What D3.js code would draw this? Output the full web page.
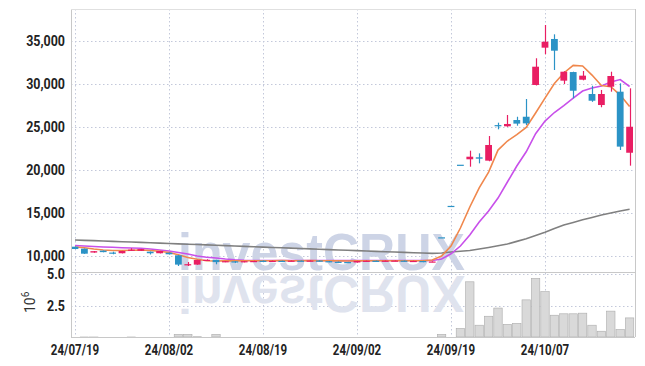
<!DOCTYPE html>
<html>
<head>
<meta charset="utf-8">
<script src="https://cdn.jsdelivr.net/npm/d3@7"></script>
<style>
  body { margin: 0; background: #fff; }
  svg { display: block; }
</style>
</head>
<body>
<svg id="chart"></svg>
<script>
// trading days shown on the chart
const dates = [
  "24/07/19","24/07/22","24/07/23","24/07/24","24/07/25","24/07/26","24/07/29","24/07/30","24/07/31","24/08/01",
  "24/08/02","24/08/05","24/08/06","24/08/07","24/08/08","24/08/09","24/08/12","24/08/13","24/08/14","24/08/16",
  "24/08/19","24/08/20","24/08/21","24/08/22","24/08/23","24/08/26","24/08/27","24/08/28","24/08/29","24/08/30",
  "24/09/02","24/09/03","24/09/04","24/09/05","24/09/06","24/09/09","24/09/10","24/09/11","24/09/12","24/09/13",
  "24/09/19","24/09/20","24/09/23","24/09/24","24/09/25","24/09/26","24/09/27","24/09/30","24/10/02","24/10/04",
  "24/10/07","24/10/08","24/10/10","24/10/11","24/10/14","24/10/15","24/10/16","24/10/17","24/10/18","24/10/21"
];

const open = [
  11080,10850,10400,10620,10400,10320,10700,10600,10500,10320,
  10380,10080,9000,9000,9500,9540,9300,9380,9280,9340,
  9450,9380,9440,9400,9460,9420,9470,9400,9330,9300,
  9250,9380,9450,9400,9420,9460,9380,9420,9300,12170,
  15820,20600,21230,21460,21070,25200,25060,25790,26170,29860,
  34190,35200,30360,31360,30470,28810,27530,29660,29080,21990
];
const high = [
  11100,10870,10580,10640,10500,10600,10900,10820,10520,10600,
  10400,10100,9300,9560,9620,9560,9420,9420,9420,9450,
  9480,9470,9460,9480,9480,9490,9500,9420,9350,9320,
  9440,9470,9470,9480,9490,9480,9450,9440,9380,12170,
  15820,20600,22230,21920,23930,25480,26370,26170,28230,32960,
  36820,35740,31450,31400,31480,29770,29280,31400,30050,29470
];
const low = [
  10800,10250,10380,10430,10200,10300,10580,10580,10180,10300,
  10180,8840,8840,8980,9450,9040,9280,9200,9260,9320,
  9350,9360,9380,9380,9400,9400,9360,9280,9180,9230,
  9230,9360,9380,9380,9400,9360,9360,9280,9280,12170,
  15820,20600,20370,20760,21000,24710,25000,25130,25210,29800,
  33420,31600,29970,28310,30400,27900,27270,29080,22310,20490
];
const close = [
  10810,10270,10560,10450,10360,10580,10740,10800,10320,10580,
  10200,9000,9050,9540,9560,9290,9400,9250,9400,9420,
  9380,9440,9400,9460,9420,9470,9380,9300,9200,9250,
  9420,9450,9400,9460,9470,9380,9430,9300,9360,12170,
  15820,20600,21530,21300,22890,25060,25330,25370,25400,31980,
  34880,33840,31400,29190,30940,28030,28810,30900,22700,25010
];

// volume, millions of shares
const volume = [
  0.01,0.08,0.08,0.01,0.01,0.01,0.08,0.01,0.01,0.01,
  0.01,0.28,0.28,0.1,0.01,0.28,0.01,0.01,0.01,0.01,
  0.01,0.01,0.01,0.01,0.01,0.01,0.01,0.01,0.01,0.01,
  0.01,0.01,0.01,0.01,0.01,0.06,0.01,0.01,0.01,0.28,
  0.06,0.74,4.39,1.0,1.7,2.34,1.06,1.14,2.98,4.65,
  3.62,1.78,1.89,1.89,1.94,1.0,0.53,2.1,0.66,1.57
];

const ma5 = [
  11045,10950,10810,10700,10640,10640,10660,10700,10640,10550,
  10410,10140,9830,9620,9440,9420,9440,9430,9440,9450,
  9450,9450,9460,9450,9450,9460,9450,9440,9430,9420,
  9430,9440,9440,9450,9450,9450,9450,9450,9540,10000,
  11160,13250,15690,17900,19750,22300,23350,24100,24920,26600,
  28340,30030,31250,32140,32060,31010,29800,29660,28690,27360
];
const ma10 = [
  11220,11160,11100,11045,11010,10960,10930,10900,10810,10700,
  10580,10410,10230,10000,9860,9770,9650,9560,9500,9470,
  9470,9470,9470,9470,9470,9470,9470,9470,9460,9460,
  9460,9460,9470,9470,9470,9470,9470,9470,9480,9650,
  10260,11160,12440,13950,15220,16730,18590,20450,22100,24200,
  25670,26660,27470,28340,29160,29500,29740,30200,30490,29680
];
const ma60 = [
  11860,11820,11780,11740,11700,11660,11620,11580,11530,11490,
  11450,11410,11370,11330,11290,11250,11200,11160,11120,11080,
  11030,10990,10950,10910,10870,10830,10790,10740,10700,10660,
  10620,10580,10540,10500,10460,10420,10380,10340,10310,10350,
  10460,10550,10640,10810,10990,11190,11390,11700,12010,12380,
  12750,13180,13600,13900,14210,14480,14760,14990,15220,15420
];

const priceTicks = [10000, 15000, 20000, 25000, 30000, 35000];
const volumeTicks = [2.5, 5.0];
const dateTicks = ["24/07/19","24/08/02","24/08/19","24/09/02","24/09/19","24/10/07"];

let width = 645;
let height = 366;
let plotLeft = 71, plotRight = 635, plotTop = 9, split = 272, plotBottom = 337;

let font = "Roboto, 'Liberation Sans', sans-serif";
let upColor = '#e91e63';
let downColor = '#2b93c6';
let gridColor = '#c3c8da';

let svg = d3.select('#chart')
  .attr('width', width)
  .attr('height', height);

let data = dates.map((d, i) => ({
  date: d, open: open[i], high: high[i], low: low[i], close: close[i],
  vol: volume[i], ma5: ma5[i], ma10: ma10[i], ma60: ma60[i]
}));

let xScale = d3.scaleBand()
  .domain(dates)
  .range([70.3, 634.3])
  .padding(0);

let yScale = d3.scaleLinear()
  .domain([10000, 35000])
  .range([256, 40.7]);

let vScale = d3.scaleLinear()
  .domain([0, 5])
  .range([338, 274]);

let cx = d => xScale(d) + xScale.bandwidth() / 2;

svg.append('clipPath').attr('id', 'priceClip')
  .append('rect').attr('x', plotLeft).attr('y', plotTop)
  .attr('width', plotRight - plotLeft).attr('height', split - plotTop);
svg.append('clipPath').attr('id', 'volClip')
  .append('rect').attr('x', plotLeft).attr('y', split)
  .attr('width', plotRight - plotLeft).attr('height', plotBottom - split);

// grid
let grid = svg.append('g')
  .attr('stroke', gridColor)
  .attr('stroke-dasharray', '1.5,2.5');
grid.selectAll('.hgrid')
  .data(priceTicks)
  .enter()
  .append('line')
  .attr('x1', plotLeft).attr('x2', plotRight)
  .attr('y1', d => Math.round(yScale(d)) + 0.5)
  .attr('y2', d => Math.round(yScale(d)) + 0.5);
grid.selectAll('.vgrid')
  .data(volumeTicks)
  .enter()
  .append('line')
  .attr('x1', plotLeft).attr('x2', plotRight)
  .attr('y1', d => Math.round(vScale(d)) + 0.5)
  .attr('y2', d => Math.round(vScale(d)) + 0.5);
grid.selectAll('.xgrid')
  .data(dateTicks)
  .enter()
  .append('line')
  .attr('x1', d => Math.round(cx(d)) + 0.5)
  .attr('x2', d => Math.round(cx(d)) + 0.5)
  .attr('y1', plotTop).attr('y2', plotBottom);

// watermark and its reflection
let mark = (fill, transform) => svg.append('text')
  .attr('transform', transform)
  .attr('x', 178).attr('y', 270)
  .attr('textLength', 287)
  .attr('lengthAdjust', 'spacingAndGlyphs')
  .style('font-family', "'Liberation Sans', Arial, sans-serif")
  .style('font-weight', 'bold')
  .style('font-size', '52px')
  .attr('fill', fill)
  .text('investCRUX');
mark('#cdd4e6', null);
mark('#dfe3ee', 'translate(0,546) scale(1,-1)');

// volume bars
svg.append('g')
  .attr('clip-path', 'url(#volClip)')
  .selectAll('rect')
  .data(data)
  .enter()
  .append('rect')
  .attr('x', d => xScale(d.date) + 0.5)
  .attr('width', xScale.bandwidth() - 1)
  .attr('y', d => vScale(d.vol))
  .attr('height', d => Math.max(0, plotBottom - vScale(d.vol)))
  .attr('fill', '#d9d9d9')
  .attr('stroke', '#ababab')
  .attr('stroke-width', 0.6);

// moving averages
let line = key => d3.line()
  .x(d => cx(d.date))
  .y(d => yScale(d[key]));

let maG = svg.append('g').attr('clip-path', 'url(#priceClip)');
[['ma60', '#808080'], ['ma10', '#c850ea'], ['ma5', '#f0874c']].forEach(([k, c]) => {
  maG.append('path')
    .datum(data)
    .attr('d', line(k))
    .attr('fill', 'none')
    .attr('stroke', c)
    .attr('stroke-width', 1.6);
});

// candles
let candles = svg.append('g')
  .attr('clip-path', 'url(#priceClip)')
  .selectAll('g')
  .data(data)
  .enter()
  .append('g')
  .attr('fill', d => d.close > d.open ? upColor : downColor)
  .attr('stroke', d => d.close > d.open ? upColor : downColor);

candles.append('line')
  .attr('x1', d => Math.round(cx(d.date)) + 0.5)
  .attr('x2', d => Math.round(cx(d.date)) + 0.5)
  .attr('y1', d => yScale(d.high))
  .attr('y2', d => yScale(d.low))
  .attr('stroke-width', 1.2);

candles.append('rect')
  .attr('x', d => cx(d.date) - 3.4)
  .attr('width', 6.8)
  .attr('y', d => yScale(Math.max(d.open, d.close)))
  .attr('height', d => Math.max(1.2, Math.abs(yScale(d.open) - yScale(d.close))))
  .attr('stroke', 'none');

// frame
let frame = svg.append('g').attr('stroke', '#c8c8c8').attr('fill', 'none');
frame.append('line').attr('x1', plotLeft + 0.5).attr('x2', plotLeft + 0.5).attr('y1', plotTop).attr('y2', plotBottom);
frame.append('line').attr('x1', plotRight + 0.5).attr('x2', plotRight + 0.5).attr('y1', plotTop).attr('y2', plotBottom);
frame.append('line').attr('x1', plotLeft).attr('x2', plotRight).attr('y1', plotTop + 0.5).attr('y2', plotTop + 0.5).attr('stroke', '#e0e0e0');
frame.append('line').attr('x1', plotLeft).attr('x2', plotRight).attr('y1', split + 0.5).attr('y2', split + 0.5);
frame.append('line').attr('x1', plotLeft).attr('x2', plotRight).attr('y1', plotBottom + 0.5).attr('y2', plotBottom + 0.5);

// axes
let yAxis = d3.axisLeft(yScale)
  .tickValues(priceTicks)
  .tickFormat(d3.format(','))
  .tickSize(0)
  .tickPadding(6);
svg.append('g')
  .attr('class', 'yaxis')
  .attr('transform', 'translate(' + plotLeft + ',0)')
  .call(yAxis)
  .call(g => g.select('.domain').remove());

let vAxis = d3.axisLeft(vScale)
  .tickValues(volumeTicks)
  .tickFormat(d3.format('.1f'))
  .tickSize(0)
  .tickPadding(6);
svg.append('g')
  .attr('class', 'yaxis')
  .attr('transform', 'translate(' + plotLeft + ',0)')
  .call(vAxis)
  .call(g => g.select('.domain').remove());

let xAxis = d3.axisBottom(xScale)
  .tickValues(dateTicks)
  .tickSize(0)
  .tickPadding(7);
svg.append('g')
  .attr('class', 'xaxis')
  .attr('transform', 'translate(0,' + plotBottom + ')')
  .call(xAxis)
  .call(g => g.select('.domain').remove());

// condensed, heavy look for the tick labels
let squeeze = (sel, k) => sel
  .style('font-family', font)
  .style('font-size', '15px')
  .style('font-weight', 'bold')
  .attr('fill', '#222')
  .each(function() {
    let w = this.getComputedTextLength();
    d3.select(this)
      .attr('textLength', w * k)
      .attr('lengthAdjust', 'spacingAndGlyphs');
  });
squeeze(svg.selectAll('.yaxis .tick text'), 0.83);
squeeze(svg.selectAll('.xaxis .tick text'), 0.77);

// unit label for volume
let unit = svg.append('text')
  .attr('transform', 'translate(35,313) rotate(-90)')
  .style('font-family', font)
  .style('font-size', '14px')
  .attr('fill', '#333');
unit.append('tspan').text('10');
unit.append('tspan').attr('dy', -6).style('font-size', '10px').text('6');
</script>
</body>
</html>
